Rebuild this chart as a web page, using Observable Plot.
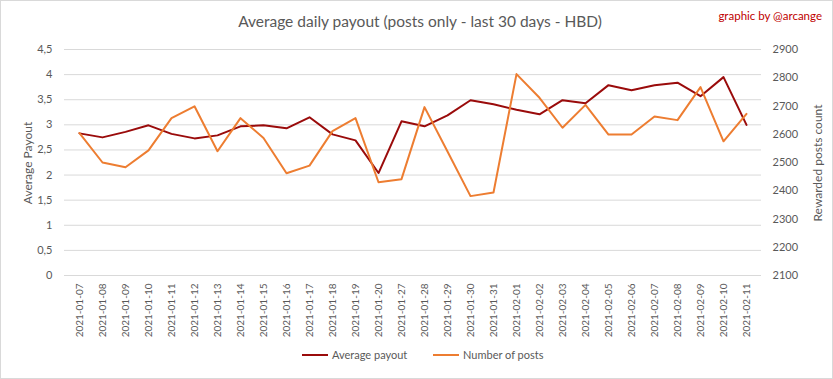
<!DOCTYPE html>
<html>
<head>
<meta charset="utf-8">
<script src="https://cdn.jsdelivr.net/npm/d3@7"></script>
<script src="https://cdn.jsdelivr.net/npm/@observablehq/plot@0.6"></script>
<style>
  html, body { margin: 0; padding: 0; background: white; }
  #chart { width: 833px; height: 379px; }
</style>
</head>
<body>
<div id="chart"></div>
<script>
const dates = [
  "2021-01-07","2021-01-08","2021-01-09","2021-01-10","2021-01-11","2021-01-12","2021-01-13",
  "2021-01-14","2021-01-15","2021-01-16","2021-01-17","2021-01-18","2021-01-19","2021-01-20",
  "2021-01-27","2021-01-28","2021-01-29","2021-01-30","2021-01-31","2021-02-01","2021-02-02",
  "2021-02-03","2021-02-04","2021-02-05","2021-02-06","2021-02-07","2021-02-08","2021-02-09",
  "2021-02-10","2021-02-11"
];
const payout = [
  2.83, 2.75, 2.86, 2.99, 2.82, 2.73, 2.79, 2.97, 2.99, 2.93, 3.15, 2.81, 2.69, 2.04,
  3.07, 2.97, 3.19, 3.49, 3.41, 3.30, 3.21, 3.49, 3.43, 3.79, 3.69, 3.79, 3.84, 3.57,
  3.95, 3.00
];
const posts = [
  2604, 2500, 2483, 2543, 2657, 2699, 2540, 2657, 2587, 2462, 2489, 2611, 2657, 2430,
  2441, 2696, 2539, 2381, 2394, 2813, 2729, 2623, 2704, 2599, 2599, 2663, 2650, 2767,
  2575, 2672
];
const leftTicks = [0, 0.5, 1, 1.5, 2, 2.5, 3, 3.5, 4, 4.5];
const rightTicks = [2100, 2200, 2300, 2400, 2500, 2600, 2700, 2800, 2900];
const seriesNames = ["Average payout", "Number of posts"];
const seriesColors = ["#9a0b0b", "#ed7d31"];

// secondary axis mapping (2100..2900 onto 0..4.5)
const toLeft = v => (v - 2100) / 800 * 4.5;
const fromLeft = v => v / 4.5 * 800 + 2100;

const rows = dates.map((d, i) => ({date: d, payout: payout[i], posts: posts[i], postsL: toLeft(posts[i])}));

const font = "Lato, 'Open Sans', sans-serif";
const W = 833, H = 379;
const mL = 64, mR = 72, mT = 49, mB = 104;

const chart = Plot.plot({
  width: W, height: H,
  marginLeft: mL, marginRight: mR, marginTop: mT, marginBottom: mB,
  style: {fontFamily: font, fontSize: "10px", color: "#595959", background: "white", overflow: "visible"},
  x: {type: "point", domain: dates, padding: 0.5, label: null},
  y: {domain: [0, 4.5], label: null},
  marks: [
    Plot.gridY(leftTicks, {stroke: "#d9d9d9", strokeOpacity: 1, strokeWidth: 1}),
    Plot.axisY(leftTicks, {anchor: "left", tickSize: 0, tickPadding: 12, label: null,
      tickFormat: d => String(d).replace(".", ","), fontSize: 11}),
    Plot.axisY(rightTicks.map(toLeft), {anchor: "right", tickSize: 0, tickPadding: 11, label: null,
      tickFormat: d => String(Math.round(fromLeft(d))), fontSize: 11}),
    Plot.axisX({tickRotate: -90, tickSize: 0, tickPadding: 8, label: null, fontSize: 10}),
    Plot.line(rows, {x: "date", y: "payout", stroke: seriesColors[0], strokeWidth: 2}),
    Plot.line(rows, {x: "date", y: "postsL", stroke: seriesColors[1], strokeWidth: 2})
  ]
});
document.getElementById("chart").appendChild(chart);

const svg = d3.select(chart);
svg.append("rect").attr("x", 0.5).attr("y", 0.5).attr("width", W - 1).attr("height", H - 1)
  .attr("fill", "none").attr("stroke", "#d9d9d9");

svg.append("text").attr("x", 420).attr("y", 27).attr("text-anchor", "middle")
  .attr("font-family", font).attr("font-size", 15.5).attr("fill", "#595959")
  .text("Average daily payout (posts only - last 30 days - HBD)");

svg.append("text").attr("x", 822).attr("y", 20).attr("text-anchor", "end")
  .attr("font-family", font).attr("font-size", 11.5).attr("fill", "#c00000")
  .text("graphic by @arcange");

svg.append("text").attr("transform", "translate(32,163) rotate(-90)").attr("text-anchor", "middle")
  .attr("font-family", font).attr("font-size", 12).attr("fill", "#595959")
  .text("Average Payout");

svg.append("text").attr("transform", "translate(822,163) rotate(-90)").attr("text-anchor", "middle")
  .attr("font-family", font).attr("font-size", 12).attr("fill", "#595959")
  .text("Rewarded posts count");

const legendX = [302, 433];
seriesNames.forEach((name, i) => {
  const g = svg.append("g").attr("transform", `translate(${legendX[i]},355)`);
  g.append("line").attr("x1", 0).attr("x2", 26).attr("y1", 0).attr("y2", 0)
    .attr("stroke", seriesColors[i]).attr("stroke-width", 2);
  g.append("text").attr("x", 30).attr("y", 4).attr("text-anchor", "start")
    .attr("font-family", font).attr("font-size", 11)
    .attr("fill", "#595959").text(name);
});
</script>
</body>
</html>
